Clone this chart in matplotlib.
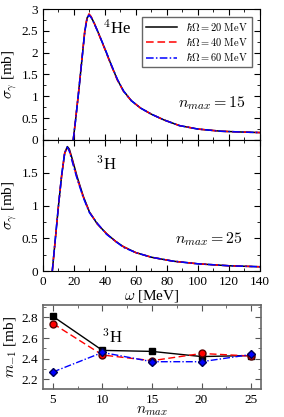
import matplotlib
matplotlib.use("Agg")
import matplotlib.pyplot as plt
from matplotlib.ticker import MultipleLocator

plt.rcParams['font.family'] = ['Liberation Serif', 'DejaVu Serif']
plt.rcParams['mathtext.fontset'] = 'cm'

# 4He, nmax = 15
w_he = [19.5, 21, 23, 25, 27, 28.5, 29.7, 31, 33, 36, 40, 44, 48, 52, 57, 63, 70, 78, 88, 100, 115, 130, 140]
he_20 = [0, 0.45, 1.1, 1.8, 2.5, 2.8, 2.87, 2.82, 2.68, 2.43, 2.08, 1.72, 1.38, 1.12, 0.9, 0.73, 0.59, 0.46, 0.33, 0.25, 0.2, 0.18, 0.17]
he_40 = [0, 0.46, 1.12, 1.82, 2.52, 2.82, 2.89, 2.83, 2.68, 2.42, 2.07, 1.71, 1.37, 1.11, 0.9, 0.73, 0.59, 0.46, 0.33, 0.25, 0.2, 0.18, 0.17]
he_60 = [0, 0.45, 1.1, 1.8, 2.49, 2.79, 2.86, 2.81, 2.67, 2.43, 2.09, 1.73, 1.39, 1.12, 0.9, 0.73, 0.59, 0.46, 0.33, 0.25, 0.2, 0.18, 0.17]

# 3H, nmax = 25
w_h = [6, 8, 10, 12, 14, 15.7, 17, 19, 22, 26, 30, 35, 41, 47, 52, 60, 70, 84, 100, 120, 140]
h_20 = [0, 0.5, 1.0, 1.45, 1.8, 1.9, 1.86, 1.7, 1.44, 1.14, 0.9, 0.72, 0.57, 0.45, 0.37, 0.28, 0.21, 0.15, 0.11, 0.08, 0.065]
h_40 = [0, 0.5, 1.0, 1.45, 1.8, 1.89, 1.84, 1.68, 1.42, 1.13, 0.9, 0.72, 0.57, 0.45, 0.37, 0.28, 0.21, 0.15, 0.11, 0.08, 0.065]
h_60 = [0, 0.5, 1.0, 1.46, 1.81, 1.89, 1.83, 1.66, 1.41, 1.12, 0.89, 0.73, 0.56, 0.45, 0.36, 0.28, 0.21, 0.15, 0.11, 0.08, 0.065]

# m_-1 vs nmax
nmax = [5, 10, 15, 20, 25]
m_20 = [2.81, 2.48, 2.47, 2.42, 2.43]
m_40 = [2.74, 2.435, 2.38, 2.45, 2.425]
m_60 = [2.27, 2.46, 2.37, 2.37, 2.44]

labels = [r"$\hbar\Omega = 20\ \mathrm{MeV}$", r"$\hbar\Omega = 40\ \mathrm{MeV}$", r"$\hbar\Omega = 60\ \mathrm{MeV}$"]

fig = plt.figure(figsize=(2.84, 4.17), dpi=100)
ax1 = fig.add_axes([0.1514, 0.6643, 0.764, 0.3141])
ax2 = fig.add_axes([0.1514, 0.3501, 0.764, 0.3141])
ax3 = fig.add_axes([0.1514, 0.0671, 0.7676, 0.2014])

lw = 1.1
for ax, w, ys in [(ax1, w_he, (he_20, he_40, he_60)), (ax2, w_h, (h_20, h_40, h_60))]:
    ax.plot(w, ys[0], color='black', lw=lw, ls='-', label=labels[0])
    ax.plot(w, ys[1], color='red', lw=lw, ls=(0, (5, 2.5)), label=labels[1])
    ax.plot(w, ys[2], color='blue', lw=lw, ls=(0, (5, 1.5, 1, 1.5)), label=labels[2])
    ax.set_xlim(0, 140)
    ax.xaxis.set_major_locator(MultipleLocator(20))
    ax.xaxis.set_minor_locator(MultipleLocator(10))
    ax.yaxis.set_minor_locator(MultipleLocator(0.25))
    ax.tick_params(which='both', direction='in', top=True, right=True, labelsize=9.5)
    ax.tick_params(which='major', length=4)
    ax.tick_params(which='minor', length=2)
    ax.set_ylabel(r"$\sigma_\gamma$ [mb]", fontsize=11, labelpad=2)

ax1.set_ylim(0, 3)
ax1.set_yticks([0, 0.5, 1, 1.5, 2, 2.5, 3])
ax1.set_yticklabels(['0', '0.5', '1', '1.5', '2', '2.5', '3'])
ax1.tick_params(labelbottom=False)
ax2.set_ylim(0, 2)
ax2.set_yticks([0, 0.5, 1, 1.5, 2])
ax2.set_yticklabels(['0', '0.5', '1', '1.5', ''])
ax2.set_xlabel(r"$\omega$ [MeV]", fontsize=11, labelpad=0)

ax1.text(48, 2.55, r"$^4$He", fontsize=12, ha='center', va='center')
ax1.text(109, 0.85, r"$n_{max} = 15$", fontsize=11.5, ha='center', va='center')
ax2.text(41, 1.62, r"$^3$H", fontsize=12, ha='center', va='center')
ax2.text(107, 0.49, r"$n_{max} = 25$", fontsize=11.5, ha='center', va='center')

leg = ax1.legend(loc='upper right', fontsize=7.5, handlelength=3.0, fancybox=False,
                 borderpad=0.35, labelspacing=0.3, handletextpad=0.9,
                 borderaxespad=0.8, framealpha=1)
leg.get_frame().set_edgecolor('#666666')
leg.get_frame().set_linewidth(1.0)

ax3.plot(nmax, m_20, color='black', lw=1.0, ls='-', marker='s', ms=4.5, mfc='black', mec='black')
ax3.plot(nmax, m_40, color='red', lw=1.0, ls=(0, (5, 2.5)), marker='o', ms=5, mfc='red', mec='#550000')
ax3.plot(nmax, m_60, color='blue', lw=1.0, ls=(0, (5, 1.5, 1, 1.5)), marker='D', ms=4, mfc='blue', mec='#000055')
ax3.set_xlim(4, 26)
ax3.set_ylim(2.105, 2.92)
ax3.xaxis.set_major_locator(MultipleLocator(5))
ax3.xaxis.set_minor_locator(MultipleLocator(2.5))
ax3.set_yticks([2.2, 2.4, 2.6, 2.8])
ax3.yaxis.set_minor_locator(MultipleLocator(0.1))
ax3.tick_params(which='both', direction='in', top=True, right=True, labelsize=9.5, color='#555555')
ax3.tick_params(which='major', length=4)
ax3.tick_params(which='minor', length=2)
for s in ax3.spines.values():
    s.set_color('#666666')
    s.set_linewidth(1.2)
ax3.set_ylabel(r"$m_{-1}$ [mb]", fontsize=11, labelpad=2)
ax3.set_xlabel(r"$n_{max}$", fontsize=11, labelpad=-1)
ax3.text(11, 2.6, r"$^3$H", fontsize=12, ha='center', va='center')

fig.savefig("out.png", dpi=100)
